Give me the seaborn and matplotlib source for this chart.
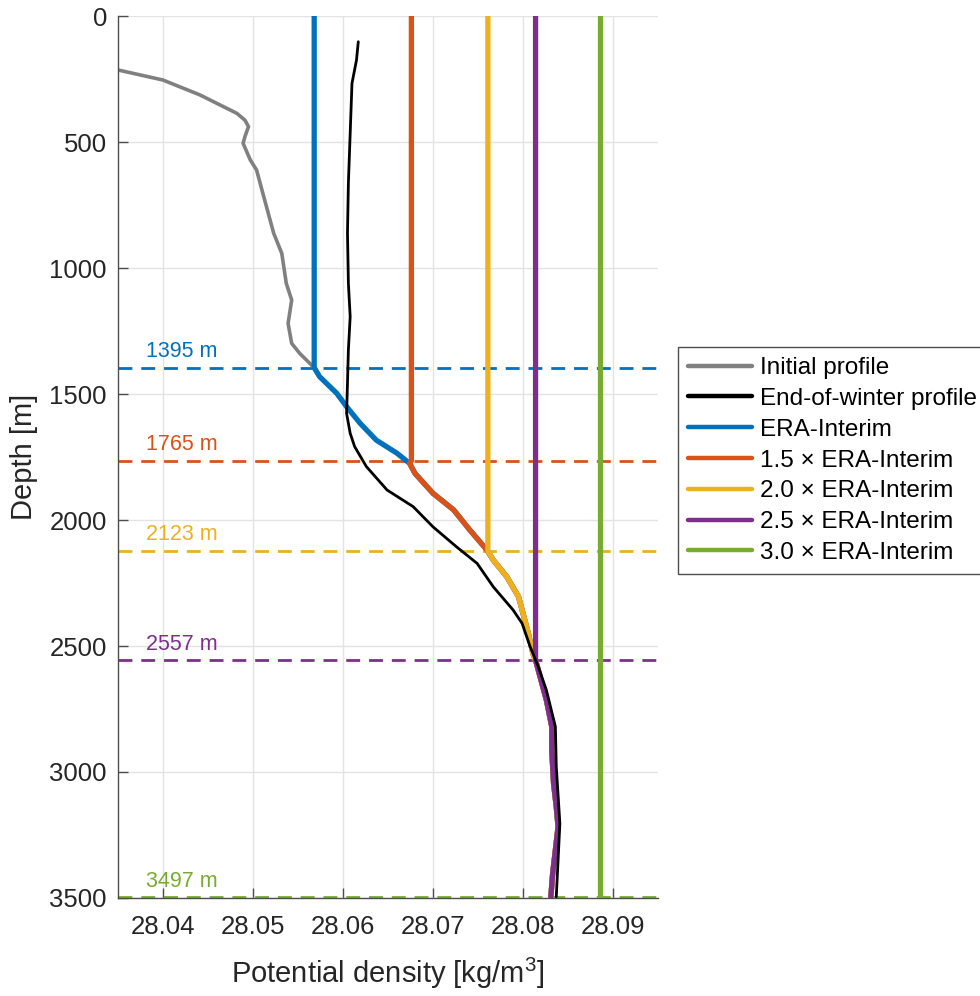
import numpy as np
import pandas as pd
import matplotlib
matplotlib.use("Agg")
import matplotlib.pyplot as plt
import seaborn as sns

# Initial (pre-winter) potential density profile
init_depth = [214, 254, 313, 386, 413, 439, 479, 505, 571, 611, 704, 783, 862, 942,
              1061, 1127, 1220, 1299, 1339, 1385, 1431, 1497, 1550, 1616, 1683, 1735,
              1775, 1815, 1894, 1960, 2040, 2119, 2159, 2225, 2304, 2370, 2450, 2529,
              2569, 2622, 2714, 2820, 2913, 3045, 3138, 3217, 3310, 3402, 3495]
init_density = [28.0350, 28.0400, 28.0441, 28.0482, 28.0491, 28.0495, 28.0491, 28.0489,
                28.0497, 28.0504, 28.0511, 28.0517, 28.0523, 28.0532, 28.0537, 28.0543,
                28.0539, 28.0543, 28.0552, 28.0565, 28.0574, 28.0593, 28.0604, 28.0619,
                28.0637, 28.0660, 28.0674, 28.0680, 28.0700, 28.0723, 28.0741, 28.0760,
                28.0767, 28.0782, 28.0795, 28.0800, 28.0806, 28.0811, 28.0815, 28.0819,
                28.0826, 28.0832, 28.0832, 28.0834, 28.0837, 28.0839, 28.0836, 28.0833,
                28.0831]

# Observed end-of-winter profile
eow_depth = [102, 175, 267, 465, 664, 862, 1061, 1193, 1325, 1458, 1577, 1656, 1709,
             1788, 1881, 1947, 2027, 2106, 2172, 2265, 2357, 2410, 2503, 2582, 2675,
             2820, 2979, 3204, 3349, 3495]
eow_density = [28.0617, 28.0615, 28.0610, 28.0608, 28.0606, 28.0605, 28.0606, 28.0608,
               28.0606, 28.0605, 28.0604, 28.0608, 28.0613, 28.0626, 28.0649, 28.0678,
               28.0700, 28.0726, 28.0749, 28.0767, 28.0789, 28.0799, 28.0808, 28.0817,
               28.0826, 28.0836, 28.0837, 28.0841, 28.0839, 28.0837]

# Simulated runs: mixed-layer density and mixed-layer depth per forcing
run_labels = ["ERA-Interim", "1.5 \u00d7 ERA-Interim", "2.0 \u00d7 ERA-Interim",
              "2.5 \u00d7 ERA-Interim", "3.0 \u00d7 ERA-Interim"]
mixed_density = [28.0568, 28.0676, 28.0761, 28.0814, 28.0886]
mixed_depth = [1395, 1765, 2123, 2557, 3497]
run_colors = ["#0072BD", "#D95319", "#EDB120", "#7E2F8E", "#77AC30"]

xticks = [28.04, 28.05, 28.06, 28.07, 28.08, 28.09]
yticks = [0, 500, 1000, 1500, 2000, 2500, 3000, 3500]

sns.set_style("ticks")
plt.rcParams["font.family"] = ["Liberation Sans", "DejaVu Sans"]
plt.rcParams["mathtext.fontset"] = "custom"
plt.rcParams["mathtext.rm"] = "Liberation Sans"
plt.rcParams["mathtext.it"] = "Liberation Sans"

TXT = "#262626"
fig = plt.figure(figsize=(9.8, 9.96), dpi=100)
ax = fig.add_axes([0.1204, 0.0984, 0.551, 0.8855])

ax.set_xlim(28.035, 28.095)
ax.set_ylim(3500, 0)
ax.set_xticks(xticks)
ax.set_yticks(yticks)
ax.set_xticklabels([f"{v:.2f}" for v in xticks])
ax.set_yticklabels([str(v) for v in yticks])
ax.grid(True, color="#e3e3e3", lw=1.0)
ax.set_axisbelow(True)
for s in ["top", "right"]:
    ax.spines[s].set_visible(False)
for s in ["left", "bottom"]:
    ax.spines[s].set_color("#4d4d4d")
    ax.spines[s].set_linewidth(1.0)
ax.tick_params(direction="in", length=7, width=1.0, color="#4d4d4d",
               labelsize=18.5, labelcolor=TXT, pad=8)
ax.tick_params(axis="x", pad=12)

# Mixed-layer depth markers
for d, c in zip(mixed_depth, run_colors):
    ax.axhline(d, color=c, lw=2.0, dashes=(5.0, 3.2), zorder=1.5)
    ax.annotate(f"{d} m", xy=(28.0381, d), xytext=(0, 4), textcoords="offset points",
                color=c, fontsize=15.5, ha="left", va="bottom")

init_df = pd.DataFrame({"depth": init_depth, "density": init_density})
sns.lineplot(data=init_df, x="density", y="depth", orient="y", sort=False,
             estimator=None, color="#808080", lw=2.6, ax=ax, label="Initial profile",
             zorder=2)

# Each run: homogeneous above its mixed-layer depth, initial profile below
for lab, rho, mld, c in zip(run_labels, mixed_density, mixed_depth, run_colors):
    below = init_df[init_df["depth"] > mld]
    run_df = pd.concat([pd.DataFrame({"depth": [0, mld], "density": [rho, rho]}), below],
                       ignore_index=True)
    sns.lineplot(data=run_df, x="density", y="depth", orient="y", sort=False,
                 estimator=None, color=c, lw=3.8, ax=ax, label=lab, zorder=3)

eow_df = pd.DataFrame({"depth": eow_depth, "density": eow_density})
sns.lineplot(data=eow_df, x="density", y="depth", orient="y", sort=False,
             estimator=None, color="black", lw=2.0, ax=ax,
             label="End-of-winter profile", zorder=4)

ax.set_xlim(28.035, 28.095)
ax.set_ylim(3500, 0)
ax.set_xlabel("Potential density [kg/m$^3$]", fontsize=21, color=TXT, labelpad=12)
ax.set_ylabel("Depth [m]", fontsize=21, color=TXT, labelpad=8)

handles, labels = ax.get_legend_handles_labels()
order = ["Initial profile", "End-of-winter profile"] + run_labels
hmap = dict(zip(labels, handles))
leg = ax.legend([hmap[k] for k in order], order, loc="upper left",
                bbox_to_anchor=(0.692, 0.6516), bbox_transform=fig.transFigure,
                fontsize=17.5, frameon=True, fancybox=False, framealpha=1,
                edgecolor="#4d4d4d", borderpad=0.42, labelspacing=0.36,
                handlelength=2.6, handletextpad=0.33, borderaxespad=0)
leg.get_frame().set_linewidth(1.0)
for h in leg.get_lines():
    h.set_linewidth(3.2)
for t in leg.get_texts():
    t.set_color("black")

fig.savefig("out.png", dpi=100)
